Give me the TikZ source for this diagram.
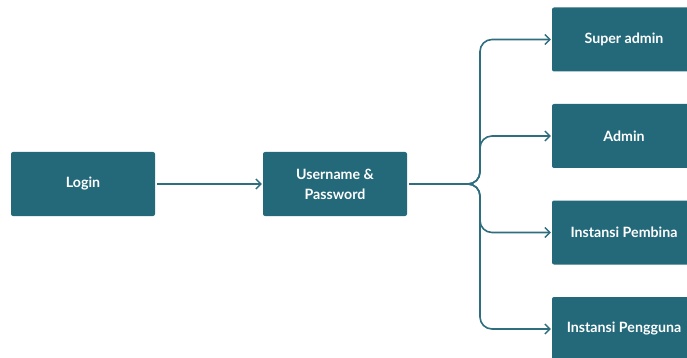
\documentclass[tikz,border=0pt]{standalone}
\usepackage{fontspec}
\setmainfont{Lato}
\usetikzlibrary{arrows.meta}
\definecolor{teal}{HTML}{23697A}
\definecolor{tealline}{HTML}{2E6E7E}
\tikzset{
  box/.style={fill=teal, rounded corners=2pt, minimum width=144pt, minimum height=64pt,
    text=white, font=\fontsize{14.2}{20}\selectfont\bfseries, align=center, inner sep=0pt},
  conn/.style={draw=tealline, line width=1.6pt, -{Straight Barb[length=5pt,width=10pt,line width=1.4pt]}, shorten >=1pt},
}
\begin{document}
\begin{tikzpicture}[x=1pt,y=-1pt]
\useasboundingbox (0,0) rectangle (687,358);
\clip (0,0) rectangle (687,358);
\fill[white] (0,0) rectangle (687,358);
\node[box] (login) at (83,184) {Login};
\node[box] (user) at (335,184) {Username \&\\Password};
\node[box] (sa) at (624,39.5) {Super admin};
\node[box] (ad) at (624,136) {Admin};
\node[box] (pb) at (624,232.5) {Instansi Pembina};
\node[box] (pg) at (624,329) {Instansi Pengguna};
\coordinate (j) at (480,184);
\draw[conn] (login.east) ++(2,0) -- (user.west);
\draw[conn, rounded corners=12pt] (user.east) ++(2,0) -- (j) |- (sa.west);
\draw[conn, rounded corners=12pt] (user.east) ++(2,0) -- (j) |- (ad.west);
\draw[conn, rounded corners=12pt] (user.east) ++(2,0) -- (j) |- (pb.west);
\draw[conn, rounded corners=12pt] (user.east) ++(2,0) -- (j) |- (pg.west);
\end{tikzpicture}
\end{document}
